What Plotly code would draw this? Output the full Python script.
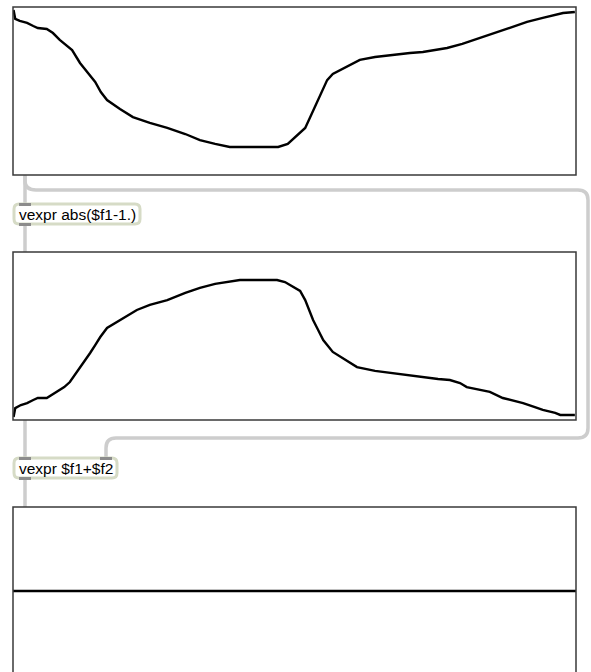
import plotly.graph_objects as go

W, H = 591, 672

# ---- data (slider position 0..1, slider value) ----
pos_top = [0.001, 0.004, 0.012, 0.025, 0.036, 0.044, 0.060, 0.071, 0.083, 0.094,
           0.105, 0.119, 0.133, 0.146, 0.156, 0.167, 0.190, 0.213, 0.243, 0.274,
           0.306, 0.332, 0.359, 0.385, 0.430, 0.471, 0.488, 0.506, 0.519, 0.528,
           0.536, 0.545, 0.558, 0.568, 0.581, 0.599, 0.616, 0.643, 0.670, 0.705,
           0.728, 0.750, 0.771, 0.798, 0.824, 0.853, 0.883, 0.913, 0.941, 0.963,
           0.977, 0.998]
val_top = [0.982, 0.929, 0.917, 0.905, 0.887, 0.875, 0.869, 0.845, 0.804, 0.774,
           0.744, 0.667, 0.607, 0.554, 0.494, 0.446, 0.393, 0.345, 0.310, 0.280,
           0.244, 0.208, 0.185, 0.167, 0.167, 0.167, 0.185, 0.238, 0.280, 0.345,
           0.405, 0.464, 0.565, 0.601, 0.625, 0.655, 0.685, 0.702, 0.714, 0.726,
           0.732, 0.744, 0.756, 0.780, 0.810, 0.845, 0.881, 0.911, 0.935, 0.952,
           0.964, 0.970]

pos_mid = [0.001, 0.004, 0.014, 0.025, 0.036, 0.044, 0.060, 0.078, 0.091, 0.101,
           0.110, 0.119, 0.128, 0.137, 0.146, 0.155, 0.167, 0.185, 0.202, 0.220,
           0.243, 0.274, 0.306, 0.332, 0.359, 0.380, 0.403, 0.439, 0.469, 0.483,
           0.492, 0.510, 0.519, 0.526, 0.533, 0.542, 0.551, 0.568, 0.590, 0.611,
           0.643, 0.670, 0.705, 0.728, 0.755, 0.776, 0.794, 0.806, 0.829, 0.847,
           0.870, 0.892, 0.906, 0.927, 0.941, 0.963, 0.972, 0.998]
val_mid = [0.018, 0.071, 0.089, 0.101, 0.119, 0.131, 0.131, 0.167, 0.196, 0.226,
           0.268, 0.315, 0.357, 0.399, 0.446, 0.494, 0.548, 0.583, 0.619, 0.655,
           0.685, 0.714, 0.756, 0.786, 0.810, 0.821, 0.833, 0.833, 0.833, 0.821,
           0.804, 0.768, 0.714, 0.655, 0.595, 0.536, 0.476, 0.405, 0.357, 0.315,
           0.292, 0.280, 0.262, 0.256, 0.244, 0.238, 0.220, 0.196, 0.179, 0.167,
           0.131, 0.113, 0.101, 0.077, 0.060, 0.042, 0.030, 0.030]

pos_sum = [0.0, 0.25, 0.5, 0.75, 1.0]
val_sum = [1.0, 1.0, 1.0, 1.0, 1.0]

label_abs = "vexpr abs($f1-1.)"
label_sum = "vexpr $f1+$f2"


def px(x):
    return x / W


def py(y):
    return 1 - y / H


def pt(x, y):
    return f"{px(x):.5f},{py(y):.5f}"


fig = go.Figure()
fig.add_trace(go.Scatter(x=pos_top, y=val_top, mode="lines", xaxis="x", yaxis="y",
                         line=dict(color="black", width=2.4), hoverinfo="skip"))
fig.add_trace(go.Scatter(x=pos_mid, y=val_mid, mode="lines", xaxis="x2", yaxis="y2",
                         line=dict(color="black", width=2.4), hoverinfo="skip"))
fig.add_trace(go.Scatter(x=pos_sum, y=val_sum, mode="lines", xaxis="x3", yaxis="y3",
                         line=dict(color="black", width=2.6), hoverinfo="skip"))

xd = [px(13), px(576)]
ax = dict(visible=False, range=[0, 1], fixedrange=True)
fig.update_layout(
    width=W, height=H, margin=dict(l=0, r=0, t=0, b=0),
    paper_bgcolor="white", plot_bgcolor="white", showlegend=False,
    xaxis=dict(ax, domain=xd, anchor="y"),
    yaxis=dict(ax, domain=[py(175), py(7)], anchor="x"),
    xaxis2=dict(ax, domain=xd, anchor="y2"),
    yaxis2=dict(ax, domain=[py(420), py(252)], anchor="x2"),
    xaxis3=dict(ax, domain=xd, anchor="y3"),
    yaxis3=dict(visible=False, fixedrange=True, domain=[0, py(507)],
                range=[2 - 165 / 84, 2], anchor="x3"),
)

shapes = []
cable = dict(color="#cdcdcd", width=3.5)

# patch cords
for (y0, y1) in [(175, 203), (224, 252), (420, 457), (479, 507)]:
    shapes.append(dict(type="path", xref="paper", yref="paper", line=cable,
                       path=f"M {pt(25,y0)} L {pt(25,y1)}"))
shapes.append(dict(type="path", xref="paper", yref="paper", line=cable,
                   path=(f"M {pt(25,176)} L {pt(25,181)} Q {pt(25,190)} {pt(36,190)} "
                         f"L {pt(578,190)} Q {pt(588,190)} {pt(588,200)} "
                         f"L {pt(588,428)} Q {pt(588,438)} {pt(578,438)} "
                         f"L {pt(116,438)} Q {pt(106,438)} {pt(106,448)} L {pt(106,457)}")))

# multislider frames
frame = dict(color="#3a3a3a", width=1.5)
for (y0, y1) in [(7, 175), (252, 420), (507, 700)]:
    shapes.append(dict(type="rect", xref="paper", yref="paper",
                       x0=px(13), x1=px(576), y0=py(y1), y1=py(y0),
                       line=frame, fillcolor="rgba(0,0,0,0)", layer="above"))


def objbox(x0, y0, x1, y1):
    r = 5
    return (f"M {pt(x0+r,y0)} L {pt(x1-r,y0)} Q {pt(x1,y0)} {pt(x1,y0+r)} "
            f"L {pt(x1,y1-r)} Q {pt(x1,y1)} {pt(x1-r,y1)} L {pt(x0+r,y1)} "
            f"Q {pt(x0,y1)} {pt(x0,y1-r)} L {pt(x0,y0+r)} Q {pt(x0,y0)} {pt(x0+r,y0)} Z")


boxstyle = dict(color="#d6dbc6", width=3)
shapes.append(dict(type="path", xref="paper", yref="paper", line=boxstyle,
                   fillcolor="white", path=objbox(14, 204, 140, 224)))
shapes.append(dict(type="path", xref="paper", yref="paper", line=boxstyle,
                   fillcolor="white", path=objbox(14, 458, 117, 478)))

# inlets / outlets
io = dict(color="rgba(0,0,0,0)", width=0)
for (x0, y0) in [(19, 203), (19, 223), (19, 457), (100, 457), (19, 477)]:
    shapes.append(dict(type="rect", xref="paper", yref="paper", line=io,
                       fillcolor="#8c8c8c",
                       x0=px(x0), x1=px(x0 + 12), y0=py(y0 + 3), y1=py(y0)))

fig.update_layout(shapes=shapes)

font = dict(family="Liberation Sans, Arial, sans-serif", size=15.5, color="black")
fig.add_annotation(x=px(17), y=py(214), xref="paper", yref="paper", text=label_abs,
                   showarrow=False, xanchor="left", yanchor="middle", font=font)
fig.add_annotation(x=px(17), y=py(468), xref="paper", yref="paper", text=label_sum,
                   showarrow=False, xanchor="left", yanchor="middle", font=font)

fig.write_html("out.html", config={"displayModeBar": False, "staticPlot": True},
               post_script="document.body.style.margin='0px';")
